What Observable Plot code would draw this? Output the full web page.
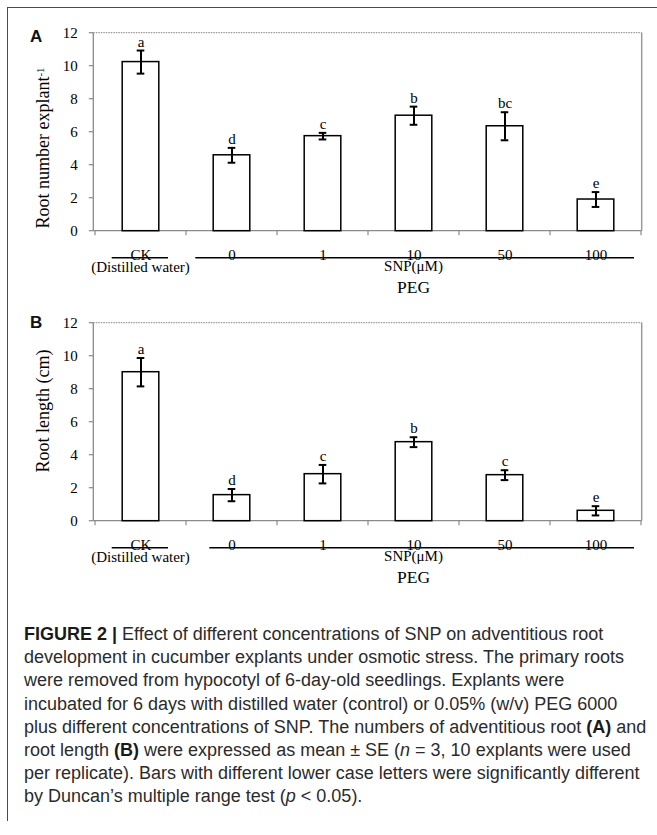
<!DOCTYPE html>
<html>
<head>
<meta charset="utf-8">
<script src="https://cdn.jsdelivr.net/npm/d3@7"></script>
<script src="https://cdn.jsdelivr.net/npm/@observablehq/plot@0.6"></script>
<style>
  html, body { margin: 0; padding: 0; background: #fff; }
  #page { position: relative; width: 657px; height: 835px; overflow: hidden; background: #fff; }
  .panel { position: absolute; left: 0; }
  .tag { position: absolute; font-family: "Liberation Sans", Arial, sans-serif; font-weight: bold; font-size: 17px; line-height: 1; color: #111; }
  #frame-top { position: absolute; left: 7px; top: 7px; width: 660px; height: 0; border-top: 1.5px solid #4a4a4a; }
  #frame-left { position: absolute; left: 7px; top: 7px; width: 0; height: 814px; border-left: 1.5px solid #4a4a4a; }
  #caption { position: absolute; left: 24px; top: 623px; font-family: "Liberation Sans", Arial, sans-serif; font-size: 18px; line-height: 23.2px; color: #2b2b2b; white-space: nowrap; }
  #caption b { color: #1a1a1a; }
</style>
</head>
<body>
<div id="page">
  <div id="frame-top"></div>
  <div id="frame-left"></div>
  <div id="panelA" class="panel" style="top:0px"></div>
  <div id="panelB" class="panel" style="top:290px"></div>
  <div class="tag" style="left:30px; top:28px">A</div>
  <div class="tag" style="left:30px; top:314px">B</div>
  <div id="caption">
    <div><b>FIGURE 2 |</b> Effect of different concentrations of SNP on adventitious root</div>
    <div>development in cucumber explants under osmotic stress. The primary roots</div>
    <div>were removed from hypocotyl of 6-day-old seedlings. Explants were</div>
    <div>incubated for 6 days with distilled water (control) or 0.05% (w/v) PEG 6000</div>
    <div>plus different concentrations of SNP. The numbers of adventitious root <b>(A)</b> and</div>
    <div>root length <b>(B)</b> were expressed as mean ± SE (<i>n</i> = 3, 10 explants were used</div>
    <div>per replicate). Bars with different lower case letters were significantly different</div>
    <div>by Duncan’s multiple range test (<i>p</i> &lt; 0.05).</div>
  </div>
</div>
<script>
// Treatments: control (CK) and PEG with increasing SNP concentrations (µM)
const categories = ["CK", "0", "1", "10", "50", "100"];
const snpGroup = ["0", "1", "10", "50", "100"];

// (A) adventitious root number per explant, mean and SE
const rootNumber = [10.25, 4.6, 5.76, 7.0, 6.36, 1.92];
const rootNumberSE = [0.7, 0.45, 0.2, 0.55, 0.85, 0.45];
const rootNumberLetters = ["a", "d", "c", "b", "bc", "e"];

// (B) root length (cm), mean and SE
const rootLength = [9.03, 1.58, 2.85, 4.79, 2.79, 0.63];
const rootLengthSE = [0.86, 0.37, 0.56, 0.3, 0.3, 0.28];
const rootLengthLetters = ["a", "d", "c", "b", "c", "e"];

const yTicks = [0, 2, 4, 6, 8, 10, 12];

const serif = "'Liberation Serif', 'Times New Roman', serif";
const axisGrey = "#8a8a8a";

function panel({values, se, letters, yLabel, yLabelCenter, snpLineStart}) {
  const rows = categories.map((c, i) => ({
    cat: c, v: values[i], lo: values[i] - se[i], hi: values[i] + se[i], letter: letters[i]
  }));

  // Excel-style chrome: axis lines, plot-area border, tick marks and the grouped category axis
  const chrome = (index, scales, vals, dims) => {
    const x = scales.x, y = scales.y;
    const bw = x.bandwidth();
    const left = dims.marginLeft, right = dims.width - dims.marginRight;
    const top = dims.marginTop, bottom = dims.height - dims.marginBottom;
    const g = d3.create("svg:g");

    // plot-area border (dotted top, grey right)
    g.append("line").attr("x1", left).attr("x2", right).attr("y1", top).attr("y2", top)
      .attr("stroke", "#9a9a9a").attr("stroke-width", 1.2).attr("stroke-dasharray", "1.5,1");
    g.append("line").attr("x1", right).attr("x2", right).attr("y1", top).attr("y2", bottom)
      .attr("stroke", "#9a9a9a").attr("stroke-width", 1.5);

    // value axis with outward ticks
    g.append("line").attr("x1", left).attr("x2", left).attr("y1", top).attr("y2", bottom)
      .attr("stroke", axisGrey).attr("stroke-width", 1.3);
    for (const t of yTicks) {
      g.append("line").attr("x1", left - 4.5).attr("x2", left).attr("y1", y(t)).attr("y2", y(t))
        .attr("stroke", axisGrey).attr("stroke-width", 1.2);
    }

    // category axis with ticks between bands
    g.append("line").attr("x1", left).attr("x2", right).attr("y1", bottom).attr("y2", bottom)
      .attr("stroke", axisGrey).attr("stroke-width", 1.3);
    const edges = categories.map(c => x(c)).concat([x(categories[categories.length - 1]) + bw]);
    for (const e of edges) {
      g.append("line").attr("x1", e).attr("x2", e).attr("y1", bottom).attr("y2", bottom + 4.5)
        .attr("stroke", axisGrey).attr("stroke-width", 1.2);
    }

    // group underlines crossing the category labels
    const lineY = bottom + 27;
    g.append("line").attr("x1", x("CK") + 16.7).attr("x2", x("CK") + bw - 18)
      .attr("y1", lineY).attr("y2", lineY).attr("stroke", "#000").attr("stroke-width", 1.5);
    const g0 = x(snpGroup[0]), g1 = x(snpGroup[snpGroup.length - 1]) + bw;
    g.append("line").attr("x1", g0 + snpLineStart).attr("x2", g1 - 7)
      .attr("y1", lineY).attr("y2", lineY).attr("stroke", "#000").attr("stroke-width", 1.5);

    const mid = (g0 + g1) / 2;
    const txt = (tx, ty, s, size) => g.append("text").attr("x", tx).attr("y", ty)
      .attr("text-anchor", "middle").attr("font-family", serif).attr("font-size", size)
      .attr("fill", "#000").text(s);
    txt(x("CK") + bw / 2, bottom + 41, "(Distilled water)", 15);
    txt(mid, bottom + 40.5, "SNP(μM)", 15);
    txt(mid, bottom + 62, "PEG", 17.5);

    // value-axis title
    const yt = g.append("text")
      .attr("transform", `translate(49,${yLabelCenter}) rotate(-90)`)
      .attr("text-anchor", "middle").attr("font-family", serif).attr("font-size", 18).attr("fill", "#000");
    yt.append("tspan").text(yLabel.main);
    if (yLabel.sup) yt.append("tspan").attr("dy", "-0.5em").attr("font-size", 11).text(yLabel.sup);
    return g.node();
  };

  return Plot.plot({
    width: 657,
    height: 300,
    marginLeft: 93.3,
    marginRight: 15.3,
    marginTop: 32.7,
    marginBottom: 69.3,
    style: {fontFamily: serif, fontSize: "15px", background: "transparent", overflow: "visible", color: "#000"},
    x: {domain: categories, padding: 0, axis: null},
    y: {domain: [0, 12], ticks: yTicks, tickSize: 0, tickPadding: 16, label: null, tickFormat: d => d},
    marks: [
      chrome,
      Plot.barY(rows, {x: "cat", y: "v", fill: "white", stroke: "#000", strokeWidth: 1.5, insetLeft: 27.2, insetRight: 27.2}),
      Plot.ruleX(rows, {x: "cat", y1: "lo", y2: "hi", stroke: "#000", strokeWidth: 2}),
      Plot.tickY(rows, {x: "cat", y: "lo", stroke: "#000", strokeWidth: 2, insetLeft: 41.7, insetRight: 41.7}),
      Plot.tickY(rows, {x: "cat", y: "hi", stroke: "#000", strokeWidth: 2, insetLeft: 41.7, insetRight: 41.7}),
      Plot.text(rows, {x: "cat", y: "hi", text: "letter", dy: -4, lineAnchor: "bottom", fontSize: 15, fill: "#000"}),
      Plot.text(categories, {x: d => d, text: d => d, frameAnchor: "bottom", dy: 29, lineAnchor: "bottom", fontSize: 15, fill: "#000"})
    ]
  });
}

document.getElementById("panelA").append(panel({
  values: rootNumber, se: rootNumberSE, letters: rootNumberLetters,
  yLabel: {main: "Root number explant", sup: "-1"}, yLabelCenter: 148, snpLineStart: 9.3
}));
document.getElementById("panelB").append(panel({
  values: rootLength, se: rootLengthSE, letters: rootLengthLetters,
  yLabel: {main: "Root length (cm)"}, yLabelCenter: 121, snpLineStart: 23.3
}));
</script>
</body>
</html>
